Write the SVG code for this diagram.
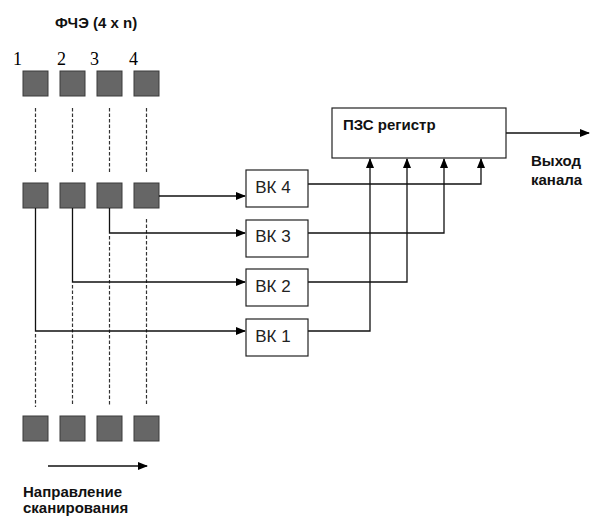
<svg xmlns="http://www.w3.org/2000/svg" width="592" height="517" viewBox="0 0 592 517">
<defs>
<style>
.sq{fill:#666;stroke:#3a3a3a;stroke-width:1}
.box{fill:#fff;stroke:#222;stroke-width:1.2}
.ln{fill:none;stroke:#111;stroke-width:1.3}
.ds{fill:none;stroke:#333;stroke-width:1.2;stroke-dasharray:3.5 2}
.b{font-family:"Liberation Sans",Arial,sans-serif;font-weight:bold;font-size:15px;fill:#111}
.n{font-family:"Liberation Sans",Arial,sans-serif;font-size:17px;fill:#222;text-anchor:middle}
.num{font-family:"Liberation Serif","Times New Roman",serif;font-size:18px;fill:#000}
</style>
<marker id="ah" markerUnits="userSpaceOnUse" markerWidth="10" markerHeight="8" refX="9" refY="4" orient="auto">
<path d="M0,0 L10,4 L0,8 Z" fill="#000"/>
</marker>
</defs>
<rect width="592" height="517" fill="#fff"/>

<text class="b" x="55" y="28">ФЧЭ (4 x n)</text>
<g id="numbers">
<text class="num" x="13" y="65">1</text>
<text class="num" x="57" y="65">2</text>
<text class="num" x="90" y="65">3</text>
<text class="num" x="129" y="65">4</text>
</g>

<g id="guides">
<path class="ds" d="M35.5,108 V172 M72.5,108 V172 M109.5,108 V172 M146.5,108 V172"/>
<path class="ds" d="M35.5,334 V407 M72.5,285 V405 M109.5,236 V405 M146.5,219 V405"/>
</g>

<g id="row1">
<rect class="sq" x="23" y="71" width="25" height="25"/>
<rect class="sq" x="60" y="71" width="25" height="25"/>
<rect class="sq" x="97" y="71" width="25" height="25"/>
<rect class="sq" x="134" y="71" width="25" height="25"/>
</g>
<g id="row2">
<rect class="sq" x="23" y="183" width="25" height="25"/>
<rect class="sq" x="60" y="183" width="25" height="25"/>
<rect class="sq" x="97" y="183" width="25" height="25"/>
<rect class="sq" x="134" y="183" width="25" height="25"/>
</g>
<g id="row3">
<rect class="sq" x="23" y="416" width="25" height="25"/>
<rect class="sq" x="60" y="416" width="25" height="25"/>
<rect class="sq" x="97" y="416" width="25" height="25"/>
<rect class="sq" x="134" y="416" width="25" height="25"/>
</g>

<g id="connectors">
<path class="ln" d="M159,196 H245" marker-end="url(#ah)"/>
<path class="ln" d="M109.5,208 V233 H245" marker-end="url(#ah)"/>
<path class="ln" d="M72.5,208 V282 H245" marker-end="url(#ah)"/>
<path class="ln" d="M35.5,208 V331 H245" marker-end="url(#ah)"/>
<path class="ln" d="M308,184 H481 V159" marker-end="url(#ah)"/>
<path class="ln" d="M308,233 H444 V159" marker-end="url(#ah)"/>
<path class="ln" d="M308,282 H407 V159" marker-end="url(#ah)"/>
<path class="ln" d="M308,331 H370 V159" marker-end="url(#ah)"/>
<path class="ln" d="M506,133 H589" marker-end="url(#ah)"/>
<path class="ln" d="M48,466 H147" marker-end="url(#ah)"/>
</g>

<g id="vk4"><rect class="box" x="246" y="170" width="62" height="37"/><text class="n" x="273" y="192.5">ВК 4</text></g>
<g id="vk3"><rect class="box" x="246" y="220" width="62" height="37"/><text class="n" x="273" y="242">ВК 3</text></g>
<g id="vk2"><rect class="box" x="246" y="269" width="62" height="37"/><text class="n" x="273" y="291.5">ВК 2</text></g>
<g id="vk1"><rect class="box" x="246" y="319" width="62" height="37"/><text class="n" x="273" y="341.5">ВК 1</text></g>

<g id="pzs"><rect class="box" x="332" y="108" width="174" height="50"/><text class="b" x="343" y="130" font-size="17">ПЗС регистр</text></g>

<text class="b" x="531" y="165.5">Выход</text>
<text class="b" x="531" y="185">канала</text>

<text class="b" x="23" y="497" font-size="17">Направление</text>
<text class="b" x="23" y="513" font-size="17">сканирования</text>
</svg>
